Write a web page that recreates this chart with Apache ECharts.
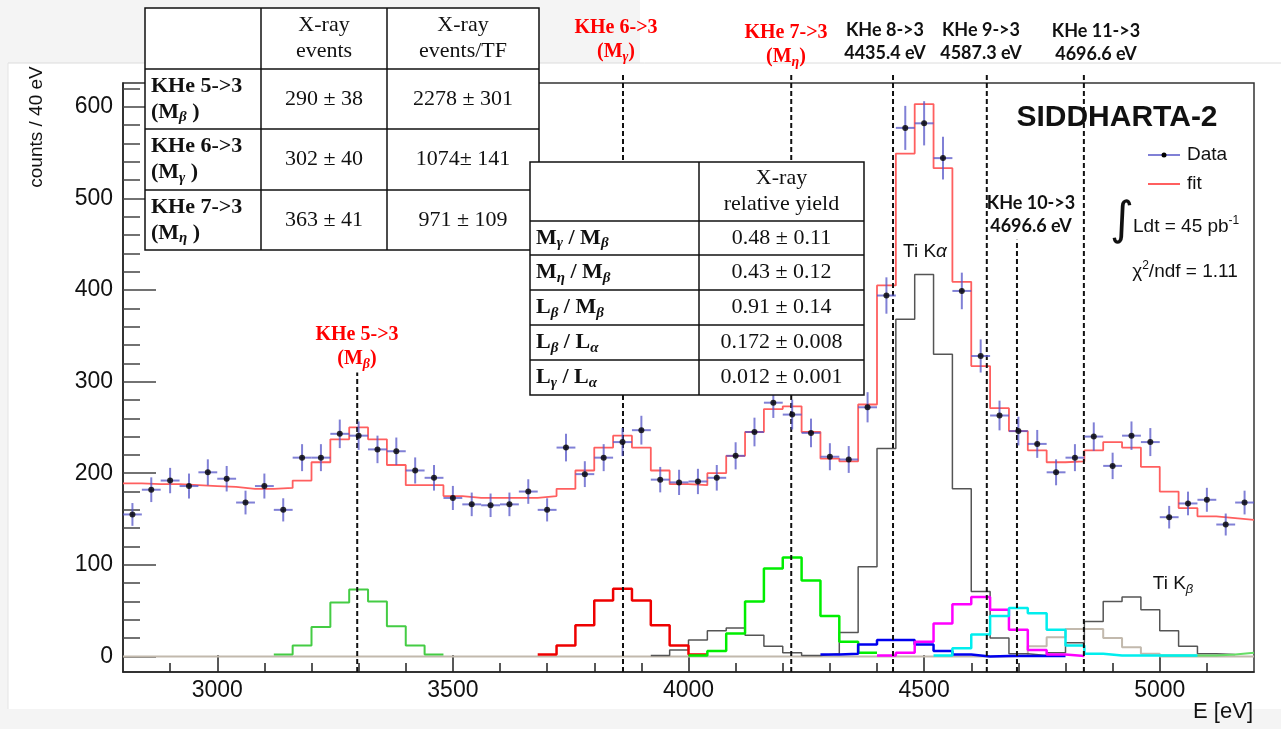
<!DOCTYPE html>
<html>
<head>
<meta charset="utf-8">
<script src="https://cdn.jsdelivr.net/npm/echarts@6/dist/echarts.min.js"></script>
<style>
  html, body { margin: 0; padding: 0; background: #fff; }
  #chart { width: 1281px; height: 729px; }
</style>
</head>
<body>
<div id="chart"></div>
<script>
// 40 eV bins from 2800 to 5200 eV
const BIN = 40
const E_MIN = 2800
const E_MAX = 5200
const Y_MIN = -17
const Y_MAX = 626

const counts = [
  155, 182, 192, 186, 201, 194, 168, 186, 160, 217,
  217, 243, 241, 226, 224, 203, 195, 173, 166, 165,
  166, 180, 160, 228, 199, 217, 234, 247, 193, 190,
  191, 195, 219, 245, 277, 264, 244, 218, 215, 272,
  394, 577, 582, 544, 399, 328, 263, 246, 232, 201,
  217, 240, 208, 241, 234, 152, 167, 171, 144, 168
]
const fitValues = [
  189, 188, 188, 187, 186, 185, 183, 183, 184, 192,
  212, 237, 250, 237, 209, 187, 187, 175, 173, 173,
  173, 173, 175, 183, 203, 228, 241, 228, 203, 188,
  187, 200, 219, 245, 270, 273, 245, 216, 213, 275,
  405, 549, 603, 533, 409, 317, 271, 246, 225, 212,
  213, 225, 234, 228, 207, 180, 162, 153, 151, 149
]

// fit components: first bin low edge + bin contents
const kHe53Start = 3120
const kHe53 = [2, 12, 32, 59, 73, 60, 33, 12, 2]
const kHe63Start = 3680
const kHe63 = [2, 12, 34, 61, 74, 61, 34, 12, 2]
const kHe73Start = 4000
const kHe73 = [1, 6, 25, 60, 96, 108, 83, 44, 16, 4]
const tiStart = 3920
const tiLines = [1, 7, 18, 28, 31, 23, 11, 4, 1, 3, 26, 98, 227, 368, 417, 330, 183, 71, 20, 3, 1,
  4, 15, 38, 60, 65, 51, 28, 11, 3, 2]
const kHe83Start = 4280
const kHe83 = [2, 3, 13, 18, 18, 13, 6, 2, 0, 0.5, 0.5, 0.5, 0.5]
const kHe93Start = 4400
const kHe93 = [1, 4, 16, 36, 57, 65, 51, 29, 7, 2, 0.5]
const kHe103Start = 4520
const kHe103 = [1, 9, 24, 44, 53, 47, 29, 12, 3, 1, 1, 1, 1, 1]
const kHe113Start = 4680
const kHe113 = [1, 11, 21, 30, 30, 20, 10, 3]
const tailStart = 5000
const tail = [1, 1, 1, 2, 4]

const xMajorTicks = [3000, 3500, 4000, 4500, 5000]
const xMinorTicks = [2900, 3100, 3200, 3300, 3400, 3600, 3700, 3800, 3900, 4100, 4200, 4300, 4400,
  4600, 4700, 4800, 4900, 5100]
const yMajorTicks = [0, 100, 200, 300, 400, 500, 600]
const yMinorTicks = [20, 40, 60, 80, 120, 140, 160, 180, 220, 240, 260, 280, 320, 340, 360, 380,
  420, 440, 460, 480, 520, 540, 560, 580, 620]

// transition lines (energy, top of dashed line)
const lineEnergies = [3297, 3861, 4218, 4434, 4633, 4697, 4839]
const lineTops = [310, 636, 636, 636, 636, 455, 636]

const eventsHeader = ['', 'X-ray\nevents', 'X-ray\nevents/TF']
const eventsRows = [
  ['KHe 5->3', 'β', '290 ± 38', '2278 ± 301'],
  ['KHe 6->3', 'γ', '302 ± 40', '1074± 141'],
  ['KHe 7->3', 'η', '363 ± 41', '971 ± 109']
]
const yieldHeader = ['', 'X-ray\nrelative yield']
const yieldRows = [
  [['M', 'γ', 'M', 'β'], '0.48 ± 0.11'],
  [['M', 'η', 'M', 'β'], '0.43 ± 0.12'],
  [['L', 'β', 'M', 'β'], '0.91 ± 0.14'],
  [['L', 'β', 'L', 'α'], '0.172 ± 0.008'],
  [['L', 'γ', 'L', 'α'], '0.012 ± 0.001']
]

const serif = 'Liberation Serif'
const sans = 'Liberation Sans'
const calib = 'Lato'

const hist = (start, vals) => {
  const pts = vals.map((v, i) => [start + BIN * i, v])
  pts.push([start + BIN * vals.length, vals[vals.length - 1]])
  return pts
}
const padded = (start, vals) => {
  const n = (E_MAX - E_MIN) / BIN
  const first = (start - E_MIN) / BIN
  const out = []
  for (let i = 0; i < n; i++) {
    const v = vals[i - first]
    out.push(v === undefined ? 0 : v)
  }
  return out
}

const histSeries = (data, color, width, z) => ({
  type: 'line',
  step: 'end',
  data,
  showSymbol: false,
  silent: true,
  z: z || 2,
  lineStyle: { color, width }
})

const text = (x, y, t, rich, extra) => ({
  type: 'text',
  x,
  y,
  z: 120,
  style: Object.assign({
    text: t,
    rich,
    align: 'center',
    verticalAlign: 'middle',
    textAlign: 'center',
    textVerticalAlign: 'middle'
  }, extra || {})
})

const tableRich = {
  n: { fontFamily: serif, fontSize: 22, lineHeight: 26, fill: '#111' },
  b: { fontFamily: serif, fontSize: 22, fontWeight: 'bold', lineHeight: 26, fill: '#111' },
  s: { fontFamily: serif, fontSize: 15, fontWeight: 'bold', fontStyle: 'italic', lineHeight: 10, verticalAlign: 'bottom', fill: '#111' }
}

const table = (cols, rows, cells) => {
  const children = [{
    type: 'rect',
    shape: { x: cols[0], y: rows[0], width: cols[cols.length - 1] - cols[0], height: rows[rows.length - 1] - rows[0] },
    style: { fill: '#fff', stroke: '#111', lineWidth: 1.5 }
  }]
  cols.slice(1, -1).forEach(x => children.push({
    type: 'line', shape: { x1: x, y1: rows[0], x2: x, y2: rows[rows.length - 1] }, style: { stroke: '#111', lineWidth: 1.5 }
  }))
  rows.slice(1, -1).forEach(y => children.push({
    type: 'line', shape: { x1: cols[0], y1: y, x2: cols[cols.length - 1], y2: y }, style: { stroke: '#111', lineWidth: 1.5 }
  }))
  cells.forEach((row, r) => row.forEach((c, k) => {
    if (!c) return
    const cy = (rows[r] + rows[r + 1]) / 2
    if (k === 0) {
      children.push(Object.assign(text(cols[0] + 6, cy, c, tableRich, { align: 'left', textAlign: 'left' }), { z: 121 }))
    } else {
      children.push(Object.assign(text((cols[k] + cols[k + 1]) / 2, cy, c, tableRich), { z: 121 }))
    }
  }))
  return { type: 'group', z: 110, children: children.map(ch => Object.assign({ z: 110 }, ch)) }
}

const plain = s => s.split('\n').map(l => '{n|' + l + '}').join('\n')

const eventsCells = [eventsHeader.map(plain)].concat(eventsRows.map(r => [
  '{b|' + r[0] + '}\n{b|(M}{s|' + r[1] + '}{b| )}',
  plain(r[2]),
  plain(r[3])
]))
const yieldCells = [yieldHeader.map(plain)].concat(yieldRows.map(r => [
  '{b|' + r[0][0] + '}{s|' + r[0][1] + '}{b| / ' + r[0][2] + '}{s|' + r[0][3] + '}',
  plain(r[1])
]))

const redRich = {
  r: { fontFamily: serif, fontSize: 20, fontWeight: 'bold', lineHeight: 24, fill: '#f00' },
  rs: { fontFamily: serif, fontSize: 14, fontWeight: 'bold', fontStyle: 'italic', lineHeight: 10, verticalAlign: 'bottom', fill: '#f00' }
}
const blackRich = {
  k: { fontFamily: calib, fontSize: 18, fontWeight: 'bold', lineHeight: 23, fill: '#111' }
}
const redLabel = (x, y, name, greek) => text(x, y, '{r|' + name + '}\n{r|(M}{rs|' + greek + '}{r|)}', redRich)
const blackLabel = (x, y, name, energy) => text(x, y, '{k|' + name + '}\n{k|' + energy + '}', blackRich)

const infoRich = {
  n: { fontFamily: sans, fontSize: 19, lineHeight: 24, fill: '#111' },
  i: { fontFamily: sans, fontSize: 19, fontStyle: 'italic', lineHeight: 24, fill: '#111' },
  sub: { fontFamily: sans, fontSize: 13, fontStyle: 'italic', lineHeight: 8, verticalAlign: 'bottom', fill: '#111' },
  sup: { fontFamily: sans, fontSize: 12, lineHeight: 12, verticalAlign: 'top', fill: '#111' }
}

const chart = echarts.init(document.getElementById('chart'))

chart.setOption({
  backgroundColor: '#fff',
  animation: false,
  grid: {
    left: 123, top: 83, right: 27, bottom: 57,
    show: true, backgroundColor: '#fff', borderColor: '#333', borderWidth: 1.5
  },
  xAxis: [{
    type: 'value', min: E_MIN, max: E_MAX, position: 'bottom',
    axisLine: { show: true, onZero: false, lineStyle: { color: '#222', width: 1.5 } },
    axisTick: { show: true, inside: true, length: 17, customValues: xMajorTicks, lineStyle: { color: '#222', width: 1.5 } },
    axisLabel: { customValues: xMajorTicks, formatter: v => String(v), fontFamily: sans, fontSize: 23, color: '#111', margin: 7 },
    splitLine: { show: false }
  }, {
    type: 'value', min: E_MIN, max: E_MAX, position: 'bottom',
    axisLine: { show: false, onZero: false },
    axisTick: { show: true, inside: true, length: 9, customValues: xMinorTicks, lineStyle: { color: '#222', width: 1.5 } },
    axisLabel: { show: false },
    splitLine: { show: false }
  }],
  yAxis: [{
    type: 'value', min: Y_MIN, max: Y_MAX, position: 'left',
    axisLine: { show: true, onZero: false, lineStyle: { color: '#222', width: 1.5 } },
    axisTick: { show: true, inside: true, length: 33, customValues: yMajorTicks, lineStyle: { color: '#444', width: 1.5 } },
    axisLabel: { customValues: yMajorTicks, formatter: v => String(v), fontFamily: sans, fontSize: 23, color: '#111', margin: 10 },
    splitLine: { show: false }
  }, {
    type: 'value', min: Y_MIN, max: Y_MAX, position: 'left', offset: 0,
    axisLine: { show: false, onZero: false },
    axisTick: { show: true, inside: true, length: 17, customValues: yMinorTicks, lineStyle: { color: '#444', width: 1.5 } },
    axisLabel: { show: false },
    splitLine: { show: false }
  }],
  series: [
    histSeries(hist(E_MIN, padded(kHe113Start, kHe113)), '#c2b9ad', 2, 2),
    histSeries(hist(tiStart, tiLines), '#555', 1.5, 3),
    histSeries(hist(kHe53Start, kHe53), '#44cc44', 2, 3),
    histSeries(hist(tailStart, tail), '#66dd66', 2, 3),
    histSeries(hist(kHe63Start, kHe63), '#ee0000', 2.5, 3),
    histSeries(hist(kHe73Start, kHe73), '#00ee00', 2.5, 3),
    histSeries(hist(kHe83Start, kHe83), '#0000ee', 2.5, 3),
    histSeries(hist(kHe93Start, kHe93), '#ff00ff', 2.5, 3),
    histSeries(hist(kHe103Start, kHe103), '#00eeee', 2.5, 3),
    histSeries(hist(E_MIN, fitValues), '#ff5f5f', 1.8, 4),
    {
      type: 'custom',
      clip: false,
      silent: true,
      z: 6,
      data: lineEnergies.map((e, i) => [e, lineTops[i]]),
      renderItem: (params, api) => {
        const a = api.coord([api.value(0), Y_MIN])
        const b = api.coord([api.value(0), api.value(1)])
        return {
          type: 'line',
          shape: { x1: a[0], y1: a[1], x2: b[0], y2: b[1] },
          style: { stroke: '#111', lineWidth: 2, lineDash: [5, 3] }
        }
      }
    },
    {
      // Poisson error bars, +-half bin horizontally
      type: 'custom',
      silent: true,
      z: 7,
      data: counts.map((c, i) => [E_MIN + BIN * i + BIN / 2, c, Math.sqrt(c)]),
      renderItem: (params, api) => {
        const x = api.value(0)
        const y = api.value(1)
        const e = api.value(2)
        const l = api.coord([x - BIN / 2, y])
        const r = api.coord([x + BIN / 2, y])
        const t = api.coord([x, y + e])
        const b = api.coord([x, y - e])
        const style = { stroke: 'rgba(85,85,200,0.75)', lineWidth: 2 }
        return {
          type: 'group',
          children: [
            { type: 'line', shape: { x1: l[0], y1: l[1], x2: r[0], y2: r[1] }, style },
            { type: 'line', shape: { x1: t[0], y1: t[1], x2: b[0], y2: b[1] }, style }
          ]
        }
      }
    },
    {
      type: 'scatter',
      z: 8,
      silent: true,
      symbolSize: 6,
      itemStyle: { color: '#000' },
      data: counts.map((c, i) => [E_MIN + BIN * i + BIN / 2, c])
    }
  ],
  graphic: [
    { type: 'rect', z: 0, shape: { x: 0, y: 0, width: 640, height: 63 }, style: { fill: '#f4f4f4' } },
    { type: 'rect', z: 0, shape: { x: 0, y: 63, width: 8, height: 666 }, style: { fill: '#f4f4f4' } },
    { type: 'rect', z: 0, shape: { x: 0, y: 709, width: 1281, height: 20 }, style: { fill: '#f4f4f4' } },
    { type: 'line', z: 1, shape: { x1: 8, y1: 63, x2: 1281, y2: 63 }, style: { stroke: '#dcdcdc', lineWidth: 1 } },
    { type: 'line', z: 1, shape: { x1: 8, y1: 63, x2: 8, y2: 709 }, style: { stroke: '#e4e4e4', lineWidth: 1 } },

    Object.assign(text(37, 127, 'counts / 40 eV', null, { fontFamily: sans, fontSize: 19, fill: '#111' }), { rotation: Math.PI / 2 }),
    text(1253, 712, 'E [eV]', null, { fontFamily: sans, fontSize: 22, fill: '#111', align: 'right', textAlign: 'right' }),

    table([145, 261, 387, 539], [8, 69, 129, 190, 250], eventsCells),
    table([530, 699, 864], [162, 221, 255, 290, 325, 360, 395], yieldCells),

    redLabel(357, 347, 'KHe 5->3', 'β'),
    redLabel(616, 40, 'KHe 6->3', 'γ'),
    redLabel(786, 45, 'KHe 7->3', 'η'),
    blackLabel(885, 42, 'KHe 8->3', '4435.4 eV'),
    blackLabel(981, 42, 'KHe 9->3', '4587.3 eV'),
    blackLabel(1096, 43, 'KHe 11->3', '4696.6 eV'),
    blackLabel(1031, 215, 'KHe 10->3', '4696.6 eV'),

    text(925, 252, '{n|Ti K}{i|α}', infoRich),
    text(1173, 584, '{n|Ti K}{sub|β}', infoRich),

    text(1117, 118, 'SIDDHARTA-2', null, { fontFamily: sans, fontSize: 30, fontWeight: 'bold', fill: '#111' }),
    { type: 'line', z: 120, shape: { x1: 1148, y1: 155, x2: 1180, y2: 155 }, style: { stroke: 'rgba(85,85,200,0.75)', lineWidth: 2 } },
    { type: 'circle', z: 121, shape: { cx: 1164, cy: 155, r: 2.5 }, style: { fill: '#000' } },
    text(1187, 155, 'Data', null, { fontFamily: sans, fontSize: 19, fill: '#111', align: 'left', textAlign: 'left' }),
    { type: 'line', z: 120, shape: { x1: 1148, y1: 184, x2: 1180, y2: 184 }, style: { stroke: '#ff5f5f', lineWidth: 2 } },
    text(1187, 184, 'fit', null, { fontFamily: sans, fontSize: 19, fill: '#111', align: 'left', textAlign: 'left' }),
    text(1122, 222, '∫', null, { fontFamily: 'DejaVu Sans', fontSize: 46, fill: '#111' }),
    text(1133, 227, '{n|Ldt = 45 pb}{sup|-1}', infoRich, { align: 'left', textAlign: 'left' }),
    text(1185, 272, '{n|χ}{sup|2}{n|/ndf = 1.11}', infoRich)
  ]
})
</script>
</body>
</html>
